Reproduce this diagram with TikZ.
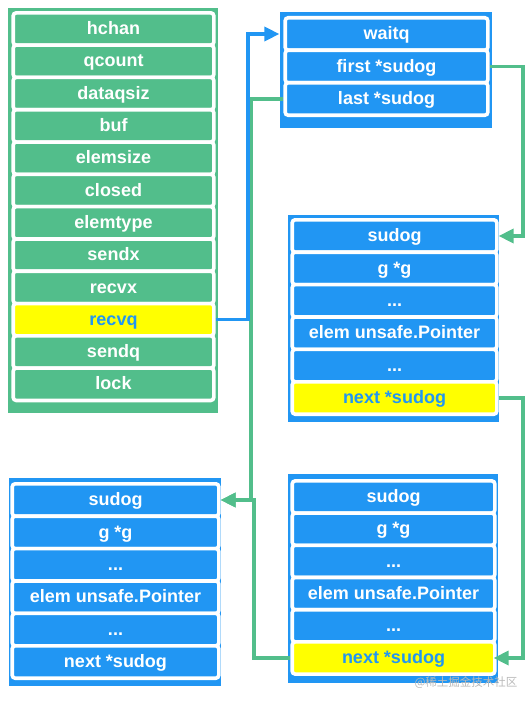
\documentclass[tikz,border=0pt]{standalone}
\usepackage{fontspec}
\setmainfont{Liberation Sans}
\newfontfamily\cjk{Noto Sans CJK SC}
\usetikzlibrary{arrows.meta}
\definecolor{cgreen}{RGB}{82,190,139}
\definecolor{cblue}{RGB}{33,150,243}
\definecolor{cyel}{RGB}{255,255,0}
\newcommand{\threedots}{...}
\tikzset{
  cell/.style={draw=white, line width=3.6pt, rounded corners=3pt, inner sep=0pt,
    minimum height=32.4pt, text height=12.8pt, text depth=1.5pt, text=white,
    font=\fontsize{18}{20}\selectfont\bfseries},
  gcell/.style={cell, fill=cgreen, minimum width=200.6pt},
  ycell/.style={cell, fill=cyel, text=cblue, minimum width=200.6pt},
  bcell/.style={cell, fill=cblue},
  ybcell/.style={cell, fill=cyel, text=cblue},
  conn/.style={line width=3.3pt, -{Triangle[length=15pt,width=14pt]}},
  gconn/.style={conn, draw=cgreen},
  bconn/.style={conn, draw=cblue}
}
\begin{document}
\begin{tikzpicture}[x=1pt,y=-1pt]
\useasboundingbox (0,0) rectangle (530,706);
% containers
\fill[cgreen] (8,8) rectangle (218,413);
\fill[cblue] (280,12) rectangle (492,128);
\fill[cblue] (288,215) rectangle (499,422);
\fill[cblue] (288,474) rectangle (498,683);
\fill[cblue] (9,478) rectangle (221,686);
% hchan
\foreach \t/\s [count=\i from 0] in {hchan/gcell,qcount/gcell,dataqsiz/gcell,buf/gcell,elemsize/gcell,closed/gcell,elemtype/gcell,sendx/gcell,recvx/gcell,recvq/ycell,sendq/gcell,lock/gcell}
  \node[\s, minimum height=32.3pt] (h\i) at (113.5,{29+32.3*\i}) {\t};
% waitq
\foreach \t [count=\i from 0] in {waitq,first *sudog,last *sudog}
  \node[bcell, minimum width=202.6pt, minimum height=32.5pt] (w\i) at (386.5,{34+32.5*\i}) {\t};
% sudog A (top right)
\foreach \t/\s [count=\i from 0] in {sudog/bcell,g *g/bcell,\threedots/bcell,elem unsafe.Pointer/bcell,\threedots/bcell,next *sudog/ybcell}
  \node[\s, minimum width=204.6pt] (a\i) at (394.5,{236+32.4*\i}) {\t};
% sudog B (bottom right)
\foreach \t/\s [count=\i from 0] in {sudog/bcell,g *g/bcell,\threedots/bcell,elem unsafe.Pointer/bcell,\threedots/bcell,next *sudog/ybcell}
  \node[\s, minimum width=202.6pt, minimum height=32.2pt] (b\i) at (393.5,{497+32.2*\i}) {\t};
% sudog C (bottom left)
\foreach \t [count=\i from 0] in {sudog,g *g,\threedots,elem unsafe.Pointer,\threedots,next *sudog}
  \node[bcell, minimum width=206.6pt] (c\i) at (115.5,{500+32.4*\i}) {\t};
% connector columns
\coordinate (bx) at (248,0);
\coordinate (gx1) at (251,0);
\coordinate (gx2) at (254,0);
\coordinate (rx) at (523,0);
% connectors
\draw[gconn] (w2.west) -- (w2.west -| gx1) |- (c0.east);
\draw[gconn] (b5.west) -- (b5.west -| gx2) |- (c0.east);
\draw[bconn, shorten >=4pt] (h9.east) -- (h9.east -| bx) |- (w0.west);
\draw[gconn] (w1.east) -- (w1.east -| rx) |- (a0.east);
\draw[gconn, shorten >=-3pt] (a5.east) -- (a5.east -| rx) |- (b5.east);
% watermark
\node[font=\cjk\fontsize{11.5}{12}\selectfont, text=gray!55, inner sep=0pt] (wm) at (466,683) {@稀土掘金技术社区};
\end{tikzpicture}
\end{document}
